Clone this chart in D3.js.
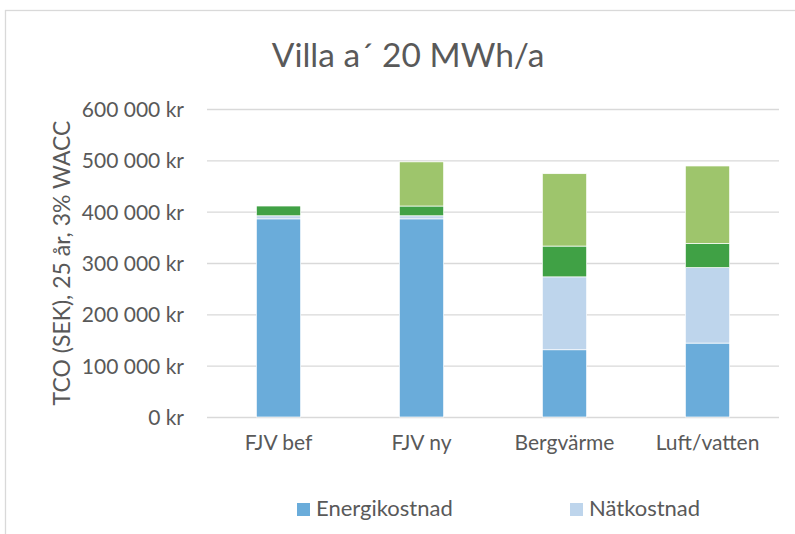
<!DOCTYPE html>
<html>
<head>
<meta charset="utf-8">
<script src="https://cdn.jsdelivr.net/npm/d3@7"></script>
<style>
    body { margin: 0; background: #fff; }
    svg text { font-family: Lato, 'Open Sans', sans-serif; fill: #595959; }
</style>
</head>
<body>
<div id="chart"></div>
<script>
const title = 'Villa a\u00b4 20 MWh/a';
const yLabel = 'TCO (SEK), 25 år, 3% WACC';
const categories = ['FJV bef', 'FJV ny', 'Bergvärme', 'Luft/vatten'];
const seriesNames = ['Energikostnad', 'Nätkostnad', 'Underhåll', 'Investering'];
const energikostnad = [386000, 386000, 131000, 144000];
const natkostnad = [6000, 6000, 142000, 147000];
const underhall = [19000, 19000, 60000, 47000];
const investering = [0, 86000, 141000, 151000];
const yTicks = [0, 100000, 200000, 300000, 400000, 500000, 600000];
const colors = ['#6aacda', '#bed5ec', '#40a145', '#9ec56c'];
// only the first legend row is visible in the picture
const legendShown = 2;

function layout() {
    const width = 795;
    const height = 534;
    const margins = { top: 109, bottom: 117, left: 207, right: 16 };

    const svg = d3.select('#chart')
        .append('svg')
        .attr('width', width)
        .attr('height', height);

    //chart border
    svg.append('rect')
        .attr('x', 5.5)
        .attr('y', 10.5)
        .attr('width', width)
        .attr('height', height)
        .attr('fill', 'none')
        .attr('stroke', '#d9d9d9')
        .attr('stroke-width', 1.3);

    return { svg, width, height, margins };
}

function drawChart() {
    const c = layout();
    const m = c.margins;
    const locale = d3.formatLocale({ decimal: ',', thousands: ' ', grouping: [3], currency: ['', ' kr'] });
    const fmt = locale.format(',');

    const data = categories.map((cat, i) => ({
        cat,
        Energikostnad: energikostnad[i],
        'Nätkostnad': natkostnad[i],
        'Underhåll': underhall[i],
        Investering: investering[i]
    }));

    //scales
    const x = d3.scaleBand()
        .domain(categories)
        .range([m.left, c.width - m.right])
        .paddingInner(0.69)
        .paddingOuter(0.345);
    const y = d3.scaleLinear()
        .domain([0, 600000])
        .range([c.height - m.bottom, m.top]);

    //y axis with gridlines
    const yAxis = c.svg.append('g')
        .attr('transform', `translate(${m.left},0)`)
        .call(
            d3.axisLeft(y)
                .tickValues(yTicks)
                .tickSize(-(c.width - m.left - m.right))
                .tickPadding(23)
                .tickFormat(d => fmt(d) + ' kr')
        );
    yAxis.select('.domain').remove();
    yAxis.selectAll('line').attr('stroke', '#d9d9d9').attr('stroke-width', 1.3);
    yAxis.attr('font-family', null);
    yAxis.selectAll('text')
        .attr('font-size', 21)
        .attr('dy', '0.35em');

    //stacked bars
    const stack = d3.stack().keys(seriesNames);
    const layers = stack(data);
    c.svg.append('g')
        .selectAll('g')
        .data(layers)
        .join('g')
        .attr('fill', (d, i) => colors[i])
        .selectAll('rect')
        .data(d => d.filter(v => v[1] > v[0]))
        .join('rect')
        .attr('x', d => x(d.data.cat))
        .attr('y', d => y(d[1]))
        .attr('width', x.bandwidth())
        .attr('height', d => y(d[0]) - y(d[1]))
        .attr('stroke', '#fff')
        .attr('stroke-width', 0.7);

    //x axis labels
    const xAxis = c.svg.append('g')
        .attr('transform', `translate(0,${c.height - m.bottom})`)
        .call(d3.axisBottom(x).tickSize(0).tickPadding(33));
    xAxis.select('.domain').remove();
    xAxis.attr('font-family', null);
    xAxis.selectAll('text').attr('font-size', 21).attr('dy', 0);

    //title
    c.svg.append('text')
        .attr('x', 408)
        .attr('y', 67)
        .attr('text-anchor', 'middle')
        .attr('font-size', 33.5)
        .text(title);

    //y label
    c.svg.append('text')
        .attr('transform', `translate(70,${(y(0) + y(600000)) / 2}) rotate(-90)`)
        .attr('text-anchor', 'middle')
        .attr('font-size', 23)
        .text(yLabel);

    //legend
    const legend = c.svg.append('g');
    const items = legend.selectAll('g')
        .data(seriesNames.slice(0, legendShown))
        .join('g')
        .attr('transform', (d, i) => `translate(${i === 0 ? 297 : 570},503)`);
    items.append('rect')
        .attr('width', 13)
        .attr('height', 13)
        .attr('fill', (d, i) => colors[i]);
    items.append('text')
        .attr('x', 19)
        .attr('y', 13)
        .attr('font-size', 22)
        .text(d => d);
}

drawChart();
</script>
</body>
</html>
